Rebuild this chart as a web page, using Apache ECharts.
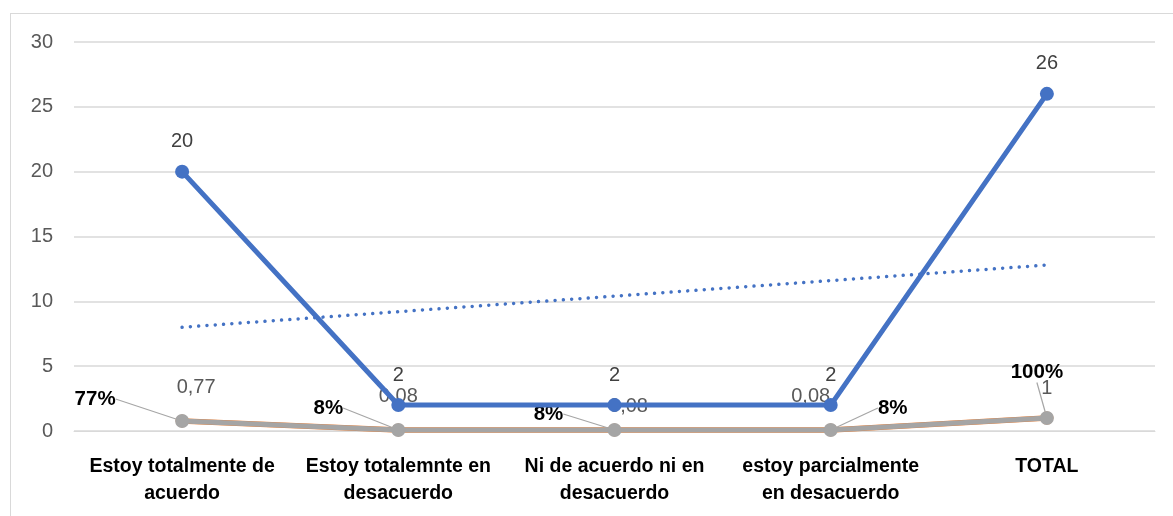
<!DOCTYPE html>
<html><head><meta charset="utf-8">
<script src="https://cdn.jsdelivr.net/npm/echarts@6/dist/echarts.min.js"></script>
<style>
html,body{margin:0;padding:0;background:#fff;}
#frame{position:absolute;left:10px;top:13px;width:1170px;height:510px;border:1px solid #d9d9d9;box-sizing:border-box;}
#c{position:absolute;left:0;top:0;width:1173px;height:516px;}
</style></head>
<body><div id="frame"></div><div id="c"></div>
<script>
const categories = ['Estoy totalmente de\nacuerdo','Estoy totalemnte en\ndesacuerdo','Ni de acuerdo ni en\ndesacuerdo','estoy parcialmente\nen desacuerdo','TOTAL'];
const counts = [20, 2, 2, 2, 26];
const shares = [0.77, 0.08, 0.08, 0.08, 1];
const shareText = ['0,77', '0,08', '0,08', '0,08', '1'];
const percentText = ['77%', '8%', '8%', '8%', '100%'];
const trendEnds = [8.0, 12.8];
const yTicks = [0, 5, 10, 15, 20, 25, 30];

// label placement (pixel offsets from points)
const shareOff = [[14,-34],[0,-33],[14,-23],[-20,-33],[0,-30]];
const pctOff = [[-87,-22],[-70,-22],[-66,-16],[62,-22],[-10,-46]];

const FONT = '"Liberation Sans", Arial, sans-serif';
const chart = echarts.init(document.getElementById('c'));
const trendData = categories.map((_, i) => i === 0 ? trendEnds[0] : (i === categories.length - 1 ? trendEnds[1] : null));

chart.setOption({
  animation: false,
  grid: {left: 74, right: 18, top: 42, bottom: 85},
  xAxis: {
    type: 'category', data: categories, boundaryGap: true,
    axisLine: {show: true, lineStyle: {color: '#d9d9d9'}},
    axisTick: {show: false},
    axisLabel: {interval: 0, color: '#000', fontWeight: 'bold', fontSize: 19.5, fontFamily: FONT, lineHeight: 27, margin: 22}
  },
  yAxis: {
    type: 'value', min: 0, max: 30, interval: 5,
    axisLine: {show: false}, axisTick: {show: false},
    splitLine: {lineStyle: {color: '#d9d9d9', width: 1.5}},
    axisLabel: {color: '#595959', fontSize: 20, fontFamily: FONT, margin: 21,
      formatter: v => yTicks.includes(v) ? String(v) : ''}
  },
  series: [
    {
      name: 'orange', type: 'line', data: shares, z: 2,
      lineStyle: {color: '#ed7d31', width: 5.5}, itemStyle: {color: '#ed7d31'},
      symbol: 'circle', symbolSize: 13,
      label: {show: true, position: 'inside', color: '#000', fontWeight: 'bold', fontSize: 20.5, fontFamily: FONT,
        formatter: p => percentText[p.dataIndex]},
      labelLine: {show: true, lineStyle: {color: '#a6a6a6', width: 1.2}},
      labelLayout: p => ({dx: pctOff[p.dataIndex][0], dy: pctOff[p.dataIndex][1]})
    },
    {
      name: 'gray', type: 'line', data: shares, z: 3,
      lineStyle: {color: '#a5a5a5', width: 5}, itemStyle: {color: '#a5a5a5'},
      symbol: 'circle', symbolSize: 14,
      label: {show: true, position: 'inside', color: '#595959', fontSize: 20, fontFamily: FONT,
        formatter: p => shareText[p.dataIndex]},
      labelLayout: p => ({dx: shareOff[p.dataIndex][0], dy: shareOff[p.dataIndex][1]})
    },
    {
      name: 'count', type: 'line', data: counts, z: 4,
      lineStyle: {color: '#4472c4', width: 5}, itemStyle: {color: '#4472c4'},
      symbol: 'circle', symbolSize: 14,
      label: {show: true, position: 'top', distance: 13, color: '#404040', fontSize: 20, fontFamily: FONT}
    },
    {
      name: 'trend', type: 'line', data: trendData, connectNulls: true, z: 1,
      symbol: 'none', lineStyle: {color: '#4472c4', width: 3.5, type: [0.01, 8.3], cap: 'round'}
    }
  ]
});
</script></body></html>
